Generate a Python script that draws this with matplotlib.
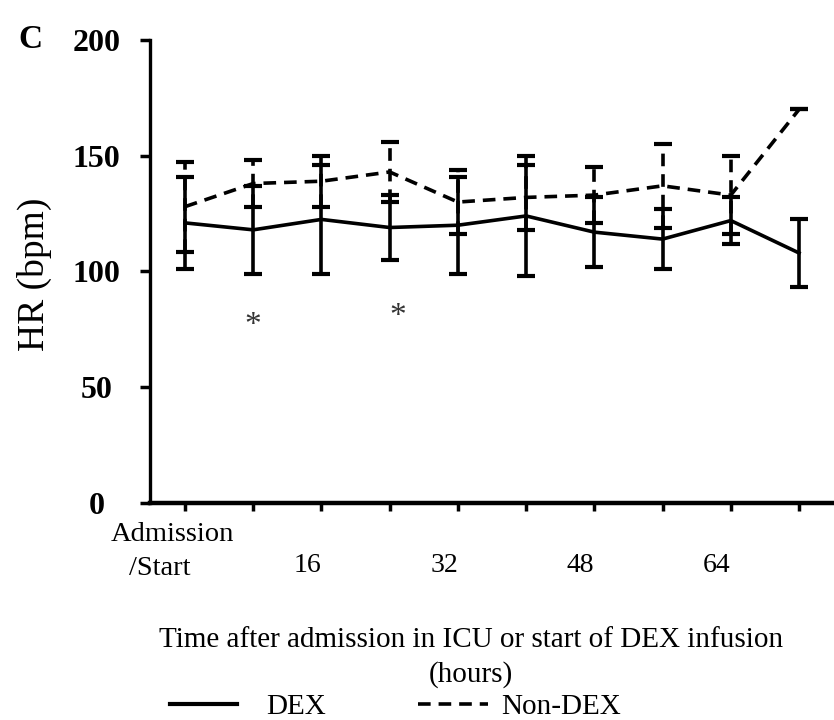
import matplotlib
matplotlib.use("Agg")
import matplotlib.pyplot as plt
from matplotlib.lines import Line2D

plt.rcParams['font.family'] = ['Liberation Serif', 'DejaVu Serif']

# Heart rate over time (mean with error bars)
hours = [0, 8, 16, 24, 32, 40, 48, 56, 64, 72]
dex_mean = [121, 118, 122.5, 119, 120, 124, 117, 114, 122, 108]
dex_err = [20, 19, 23.5, 14, 21, 26, 15, 13, 10, 14.5]
nondex_mean = [128, 138, 139, 143, 130, 132, 133, 137, 133, 170]
nondex_err = [19.5, 10, 11, 13, 14, 14, 12, 18, 17, 0]

yticks = [0, 50, 100, 150, 200]
xlabel_hours = [16, 32, 48, 64]
# significance markers (x in hours, y in bpm)
signif_x = [8, 25]
signif_y = [79, 83]

DASH = (0, (3.5, 2.2))

fig = plt.figure(figsize=(8.34, 7.2), dpi=100)
ax = fig.add_axes([150 / 834, 1 - 503 / 720, 1 - 150 / 834, (503 - 40) / 720])

# DEX group: solid line and solid error bars
ax.errorbar(hours, dex_mean, yerr=dex_err, color='black', lw=2.6,
            elinewidth=2.6, capsize=6.5, capthick=3)

# Non-DEX group: dashed line and dashed error bars
nd = ax.errorbar(hours, nondex_mean, yerr=nondex_err, color='black', lw=2.6,
                 ls=DASH, elinewidth=2.6, capsize=6.5, capthick=3)
for coll in nd[2]:
    coll.set_linestyle(DASH)

for h, y in zip(signif_x, signif_y):
    ax.annotate('*', xy=(h, y), xytext=(0, -10), textcoords='offset points',
                ha='center', va='baseline', fontsize=24, color='#333333')

ax.set_ylim(0, 200)
ax.set_xlim(-4.1, 76.1)
ax.set_yticks(yticks)
ax.set_yticklabels([str(v) for v in yticks], fontsize=23, fontweight='bold',
                   ha='center')
ax.set_xticks(hours)
ax.set_xticklabels([str(h) if h in xlabel_hours else '' for h in hours],
                   fontsize=20, ha='right')

ax.tick_params(axis='y', direction='out', length=7, width=2.5, pad=31.5)
ax.tick_params(axis='x', direction='out', length=6, width=2.5, pad=30)

for side in ('top', 'right'):
    ax.spines[side].set_visible(False)
ax.spines['left'].set_linewidth(2.4)
ax.spines['bottom'].set_linewidth(3.2)

# two-line label for the first time point
ax.annotate('Admission', xy=(0, 0), xycoords=('data', 'axes fraction'),
            xytext=(-9, -14), textcoords='offset points', ha='center', va='top',
            fontsize=20.5)
ax.annotate('/Start', xy=(0, 0), xycoords=('data', 'axes fraction'),
            xytext=(-18.5, -47), textcoords='offset points', ha='center',
            va='center', fontsize=20.5)

ax.set_ylabel('HR (bpm)', fontsize=27)
ax.yaxis.set_label_coords(-0.1426, 0.495)
ax.set_xlabel('Time after admission in ICU or start of DEX infusion\n(hours)',
              fontsize=21, linespacing=1.4)
ax.xaxis.set_label_coords((471 - 150) / 684, -0.268)

fig.text(30 / 834, 1 - 40 / 720, 'C', fontsize=24, fontweight='bold',
         ha='center', va='center')

leg_y = 1 - 707 / 720
fig.legend([Line2D([], [], color='black', lw=3)], ['DEX'],
           loc='center left', frameon=False, fontsize=21,
           handlelength=2.3, handletextpad=1.0,
           bbox_to_anchor=(144 / 834, leg_y))
fig.legend([Line2D([], [], color='black', lw=2.6, ls=DASH)], ['Non-DEX'],
           loc='center left', frameon=False, fontsize=21,
           handlelength=2.4, handletextpad=0.45,
           bbox_to_anchor=(392 / 834, leg_y))

fig.savefig('out.png', dpi=100)
